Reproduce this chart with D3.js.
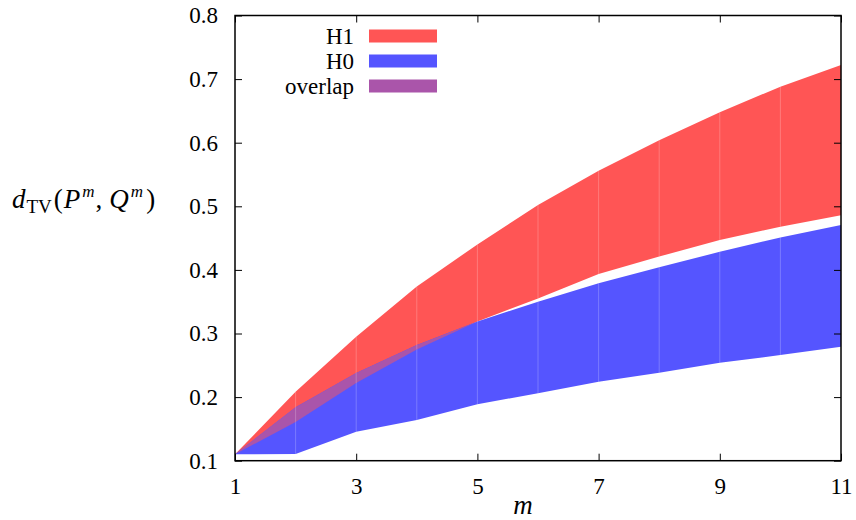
<!DOCTYPE html>
<html><head><meta charset="utf-8">
<script src="https://cdn.jsdelivr.net/npm/d3@7"></script>
<style>body{margin:0;background:#fff}svg{display:block}text{font-family:"Liberation Serif","DejaVu Serif",serif;fill:#000}</style>
</head><body><svg id="c" width="856" height="520"></svg>
<script>
const mValues = [1,2,3,4,5,6,7,8,9,10,11];
const h1Upper = [0.110,0.2085,0.295,0.374,0.440,0.502,0.556,0.604,0.648,0.688,0.722];
const h1Lower = [0.110,0.161,0.222,0.275,0.319,0.355,0.3935,0.421,0.447,0.468,0.486];
const h0Upper = [0.110,0.184,0.238,0.282,0.319,0.350,0.379,0.404,0.4285,0.451,0.4705];
const h0Lower = [0.110,0.1105,0.1456,0.164,0.1887,0.206,0.2242,0.2384,0.254,0.266,0.279];
const xTicks = [1,3,5,7,9,11];
const yTicks = [0.1,0.2,0.3,0.4,0.5,0.6,0.7,0.8];
const legendItems = [{label:"H1",color:"#ff5555"},{label:"H0",color:"#5555ff"},{label:"overlap",color:"#aa55aa"}];

const svg = d3.select("#c");
const L=235, R=841, T=15.5, B=460.7;
const x = d3.scaleLinear().domain([1,11]).range([L,R]);
const y = d3.scaleLinear().domain([0.1,0.8]).range([B,T]);

const rows = mValues.map((m,i)=>({m, h1u:h1Upper[i], h1l:h1Lower[i], h0u:h0Upper[i], h0l:h0Lower[i],
  ou:Math.min(h1Upper[i],h0Upper[i]), ol:Math.max(h1Lower[i],h0Lower[i])}));

function band(up, lo, color){
  const a = d3.area().x(d=>x(d.m)).y0(d=>y(d[lo])).y1(d=>y(d[up]));
  svg.append("path").datum(rows).attr("d",a).attr("fill",color);
  svg.append("g").selectAll("line").data(rows.slice(1,-1)).join("line")
    .attr("x1",d=>x(d.m)).attr("x2",d=>x(d.m))
    .attr("y1",d=>y(d[lo])).attr("y2",d=>y(d[up]))
    .attr("stroke","#fff").attr("stroke-opacity",0.22).attr("stroke-width",1);
}
band("h1u","h1l","#ff5555");
band("h0u","h0l","#5555ff");
const ovRows = rows.filter(d=>d.ou>=d.ol-1e-9);
const oa = d3.area().x(d=>x(d.m)).y0(d=>y(d.ol)).y1(d=>y(d.ou));
svg.append("path").datum(ovRows).attr("d",oa).attr("fill","#aa55aa");
svg.append("g").selectAll("line").data(ovRows.slice(1,-1)).join("line")
  .attr("x1",d=>x(d.m)).attr("x2",d=>x(d.m)).attr("y1",d=>y(d.ol)).attr("y2",d=>y(d.ou))
  .attr("stroke","#fff").attr("stroke-opacity",0.22);

// axes
const fs = 23;
const gx = svg.append("g").attr("transform",`translate(0,${B})`)
  .call(d3.axisBottom(x).tickValues(xTicks).tickSize(-7).tickPadding(17).tickFormat(d3.format("d")));
const gxt = svg.append("g").attr("transform",`translate(0,${T})`)
  .call(d3.axisTop(x).tickValues(xTicks).tickSize(-7).tickFormat(""));
const gy = svg.append("g").attr("transform",`translate(${L},0)`)
  .call(d3.axisLeft(y).tickValues(yTicks).tickSize(-7).tickPadding(17).tickFormat(d3.format(".1f")));
const gyr = svg.append("g").attr("transform",`translate(${R},0)`)
  .call(d3.axisRight(y).tickValues(yTicks).tickSize(-7).tickFormat(""));
[gx,gxt,gy,gyr].forEach(g=>{
  g.select(".domain").remove();
  g.attr("font-size",null).attr("font-family",null);
  g.selectAll("line").attr("stroke","#000").attr("stroke-width",1);
  g.selectAll("text").style("font-family",'"Liberation Serif",serif').style("font-size",fs+"px").attr("fill","#000");
});
svg.append("rect").attr("x",L).attr("y",T).attr("width",R-L).attr("height",B-T)
  .attr("fill","none").attr("stroke","#000").attr("stroke-width",1.5);

// legend
const lg = svg.append("g");
legendItems.forEach((it,i)=>{
  const cy = 36 + i*25;
  lg.append("text").attr("x",354).attr("y",cy+8).attr("text-anchor","end").style("font-size","23px").text(it.label);
  lg.append("rect").attr("x",369).attr("y",cy-6.5).attr("width",68).attr("height",13).attr("fill",it.color);
});

// x label
svg.append("text").attr("x",523).attr("y",514).attr("text-anchor","middle")
  .style("font-size","27px").style("font-style","italic").text("m");

// y label
const yl = svg.append("text").attr("x",12).attr("y",208).style("font-size","27px");
yl.append("tspan").style("font-style","italic").text("d");
yl.append("tspan").attr("dy",5).attr("dx",1).style("font-size","19px").text("TV");
yl.append("tspan").attr("dy",-5).attr("dx",2).text("(");
yl.append("tspan").attr("dx",1).style("font-style","italic").text("P");
yl.append("tspan").attr("dy",-11).attr("dx",2).style("font-size","17px").style("font-style","italic").text("m");
yl.append("tspan").attr("dy",11).attr("dx",1).text(",");
yl.append("tspan").attr("dx",7).style("font-style","italic").text("Q");
yl.append("tspan").attr("dy",-11).attr("dx",2).style("font-size","17px").style("font-style","italic").text("m");
yl.append("tspan").attr("dy",11).attr("dx",3).text(")");
</script></body></html>
